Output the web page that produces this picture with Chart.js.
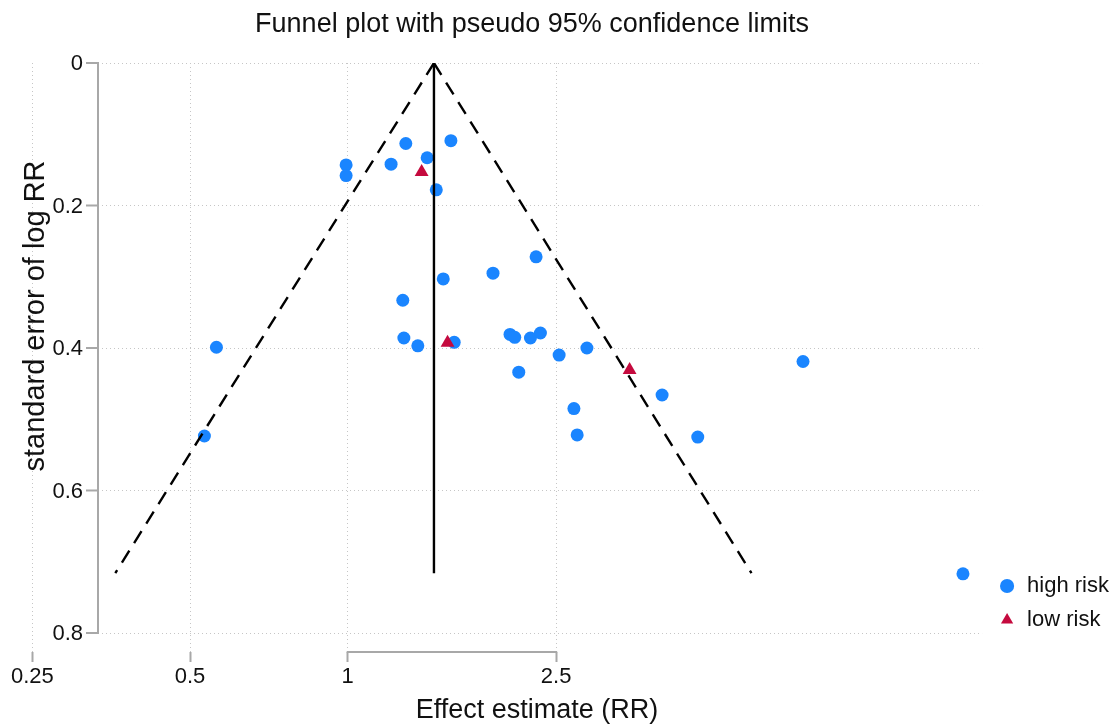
<!DOCTYPE html>
<html>
<head>
<meta charset="utf-8">
<script src="https://cdn.jsdelivr.net/npm/chart.js@4.4.1/dist/chart.umd.min.js"></script>
<style>
  html, body { margin: 0; padding: 0; background: #fff; }
</style>
</head>
<body>
<canvas id="c" width="1115" height="726"></canvas>
<script>
// studies: effect estimate (RR) and standard error of log RR
const highRR = [0.993, 0.993, 1.210, 1.291, 1.418, 1.574, 1.476, 1.522, 1.894, 2.289,
                1.274, 1.280, 1.361, 1.597, 2.041, 2.084, 2.233, 2.333, 2.121, 2.533,
                2.862, 2.703, 2.742, 3.983, 4.659, 7.40, 14.95, 0.5615, 0.5326];
const highSE = [0.143, 0.158, 0.142, 0.113, 0.133, 0.109, 0.178, 0.303, 0.295, 0.272,
                0.333, 0.386, 0.397, 0.392, 0.381, 0.385, 0.386, 0.379, 0.434, 0.410,
                0.400, 0.485, 0.522, 0.466, 0.525, 0.419, 0.717, 0.399, 0.5235];
const lowRR = [1.384, 1.551, 3.453];
const lowSE = [0.153, 0.3926, 0.431];

// pooled estimate and pseudo 95% limits (end points)
const pooledRR = [1.461, 1.461];
const funnelSE = [0, 0.716];
const funnelLeftRR = [1.461, 0.360];
const funnelRightRR = [1.461, 5.90];

const xTicks = [0.25, 0.5, 1, 2.5];
const yTicks = [0, 0.2, 0.4, 0.6, 0.8];

const TITLE = 'Funnel plot with pseudo 95% confidence limits';
const XTITLE = 'Effect estimate (RR)';
const YTITLE = 'standard error of log RR';

const FONT = '"Liberation Sans", Arial, Helvetica, sans-serif';
const pts = (xs, ys) => xs.map((v, i) => ({ x: v, y: ys[i] }));

// Stata-like left axis, its grid, the short x bracket and the titles
const stataAxes = {
  id: 'stataAxes',
  afterLayout(chart) {
    // legend sits a bit above the plot bottom and close to the right edge
    const lg = chart.legend;
    lg.top -= 9; lg.bottom -= 9;
    lg.left += 4; lg.right += 4;
  },
  beforeDatasetsDraw(chart) {
    const { ctx, chartArea, scales: { x, y } } = chart;
    const ax = chartArea.left + 65;
    ctx.save();
    ctx.strokeStyle = '#c6c6c6';
    ctx.lineWidth = 1;
    ctx.setLineDash([1, 3]);
    yTicks.forEach(v => {
      const py = Math.round(y.getPixelForValue(v)) + 0.5;
      ctx.beginPath(); ctx.moveTo(ax + 4, py); ctx.lineTo(chartArea.right, py); ctx.stroke();
    });
    ctx.setLineDash([]);
    ctx.strokeStyle = '#a8a8a8';
    ctx.lineWidth = 2;
    ctx.beginPath();
    ctx.moveTo(ax, y.getPixelForValue(0)); ctx.lineTo(ax, y.getPixelForValue(0.8));
    ctx.stroke();
    ctx.fillStyle = '#111';
    ctx.font = '22px ' + FONT;
    ctx.textAlign = 'right';
    ctx.textBaseline = 'middle';
    yTicks.forEach(v => {
      const py = y.getPixelForValue(v);
      ctx.beginPath(); ctx.moveTo(ax - 12, py); ctx.lineTo(ax + 1, py); ctx.stroke();
      ctx.fillText(String(v), ax - 15, py + 1);
    });
    // x axis line only between 1 and 2.5
    const by = chartArea.bottom;
    ctx.beginPath();
    ctx.moveTo(x.getPixelForValue(1) - 1, by); ctx.lineTo(x.getPixelForValue(2.5) + 1, by);
    ctx.stroke();
    // titles
    ctx.textAlign = 'center';
    ctx.font = '27px ' + FONT;
    ctx.fillText(TITLE, 532, 25);
    ctx.fillText(XTITLE, 537, 711);
    ctx.font = '29px ' + FONT;
    ctx.translate(36, 316);
    ctx.rotate(-Math.PI / 2);
    ctx.fillText(YTITLE, 0, 0);
    ctx.restore();
  }
};

new Chart(document.getElementById('c'), {
  type: 'scatter',
  data: {
    datasets: [
      { label: 'high risk', data: pts(highRR, highSE), order: 3,
        pointStyle: 'circle', pointRadius: 6.5, backgroundColor: '#1a85ff', borderWidth: 0 },
      { label: 'low risk', data: pts(lowRR, lowSE), order: 2,
        pointStyle: 'triangle', pointRadius: 8, backgroundColor: '#c50a3e', borderWidth: 0 },
      { label: 'lower limit', type: 'line', data: pts(funnelLeftRR, funnelSE), order: 1,
        borderColor: '#000', borderWidth: 2.4, borderDash: [14, 9], pointRadius: 0, fill: false },
      { label: 'upper limit', type: 'line', data: pts(funnelRightRR, funnelSE), order: 1,
        borderColor: '#000', borderWidth: 2.4, borderDash: [14, 9], pointRadius: 0, fill: false },
      { label: 'pooled', type: 'line', data: pts(pooledRR, funnelSE), order: 0,
        borderColor: '#000', borderWidth: 2.4, pointRadius: 0, fill: false }
    ]
  },
  options: {
    responsive: false,
    animation: false,
    layout: { padding: { left: 33, right: 0, top: 63, bottom: 0 } },
    scales: {
      x: {
        type: 'logarithmic',
        min: 0.2507,
        max: 16.26,
        afterBuildTicks: s => { s.ticks = xTicks.map(v => ({ value: v })); },
        afterFit: s => { s.height = 74; },
        ticks: { color: '#111', font: { family: FONT, size: 22 }, padding: 2,
                 maxRotation: 0, autoSkip: false, callback: v => String(v) },
        grid: { color: '#c6c6c6', lineWidth: 1, tickLength: 10, tickColor: '#a8a8a8', tickWidth: 2 },
        border: { display: false, dash: [1, 3] },
        title: { display: false }
      },
      y: {
        display: false,
        reverse: true,
        min: 0,
        max: 0.8267
      }
    },
    plugins: {
      title: { display: false },
      legend: {
        position: 'right',
        align: 'end',
        fullSize: false,
        labels: { usePointStyle: true, boxWidth: 18, boxHeight: 10, padding: 12, color: '#111',
                  font: { family: FONT, size: 22 },
                  filter: item => item.datasetIndex < 2,
                  sort: (a, b) => a.datasetIndex - b.datasetIndex }
      },
      tooltip: { enabled: false }
    }
  },
  plugins: [stataAxes]
});
</script>
</body>
</html>
